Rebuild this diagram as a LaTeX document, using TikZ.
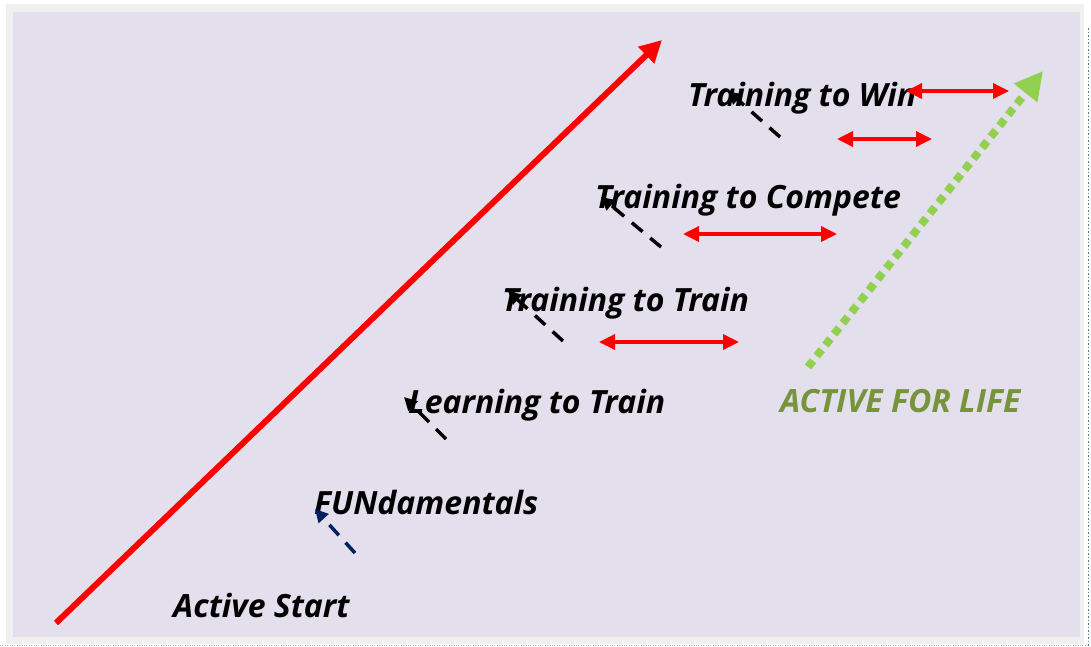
\documentclass[tikz,border=0pt]{standalone}
\usepackage{fontspec}
\setmainfont{Open Sans}
\usetikzlibrary{arrows.meta}

\definecolor{lavender}{HTML}{E4DFEC}
\definecolor{frame}{HTML}{F0F0F0}
\definecolor{lifegreen}{HTML}{77933C}
\definecolor{dotgreen}{HTML}{92D050}
\definecolor{navy}{HTML}{002060}

\begin{document}
\begin{tikzpicture}[x=1pt,y=-1pt,
  stage/.style={anchor=base west,inner sep=0pt,font=\fontsize{32}{38}\selectfont\bfseries\itshape},
  pointer/.style={line width=3.5pt,dash pattern=on 14pt off 10pt,-{Triangle[length=13pt,width=13pt]}},
  span/.style={red,line width=3.5pt,{Triangle[length=16pt,width=15pt]}-{Triangle[length=16pt,width=15pt]}}]
  \useasboundingbox (0,0) rectangle (1091,646);
  \fill[white] (0,0) rectangle (1091,646);
  \fill[frame] (6,4) rectangle (1084,644);
  \fill[lavender] (13,12) rectangle (1080,637);
  \draw[gray!60!teal,dotted,line width=1.5pt] (1088.5,28) -- (1088.5,646);
  \draw[gray!60,dotted] (0,645.5) -- (1086,645.5);

  % the stages
  \node[stage] (start) at (173,617) {Active Start};
  \node[stage] (fund) at (314,514) {FUNdamentals};
  \node[stage] (learn) at (408,413) {Learning to Train};
  \node[stage] (train) at (502,311) {Training to Train};
  \node[stage] (compete) at (595,208) {Training to Compete};
  \node[stage] (win) at (688,106) {Training to Win};
  \node[stage,text=lifegreen] (life) at (780,412) {ACTIVE FOR LIFE};

  % long red arrow and the green one
  \coordinate (base) at (56,623);
  \coordinate (top) at (662,40);
  \draw[red,line width=6pt,-{Triangle[length=22pt,width=22pt]}] (base) -- (top);
  \coordinate (lifefoot) at (808,367);
  \coordinate (lifetop) at (1043,71);
  \draw[dotgreen,line width=8pt,dash pattern=on 8pt off 6pt,-{Triangle[length=28pt,width=28pt]}] (lifefoot) -- (lifetop);

  % dashed pointers
  \coordinate (w1) at (780,137);  \coordinate (w2) at (728,91);
  \coordinate (c1) at (661,247);  \coordinate (c2) at (601,197);
  \coordinate (t1) at (563,341);  \coordinate (t2) at (508,291);
  \coordinate (l1) at (446,439);  \coordinate (l2) at (404,397);
  \coordinate (f1) at (355,553);  \coordinate (f2) at (315,509);
  \draw[pointer] (w1) -- (w2);
  \draw[pointer] (c1) -- (c2);
  \draw[pointer] (t1) -- (t2);
  \draw[pointer] (l1) -- (l2);
  \draw[pointer,navy] (f1) -- (f2);

  % red double arrows
  \coordinate (a1) at (906,91);  \coordinate (a2) at (1009,91);
  \coordinate (b1) at (837,139); \coordinate (b2) at (932,139);
  \coordinate (d1) at (683,234); \coordinate (d2) at (837,234);
  \coordinate (e1) at (599,342); \coordinate (e2) at (739,342);
  \draw[span] (a1) -- (a2);
  \draw[span] (b1) -- (b2);
  \draw[span] (d1) -- (d2);
  \draw[span] (e1) -- (e2);
\end{tikzpicture}
\end{document}
